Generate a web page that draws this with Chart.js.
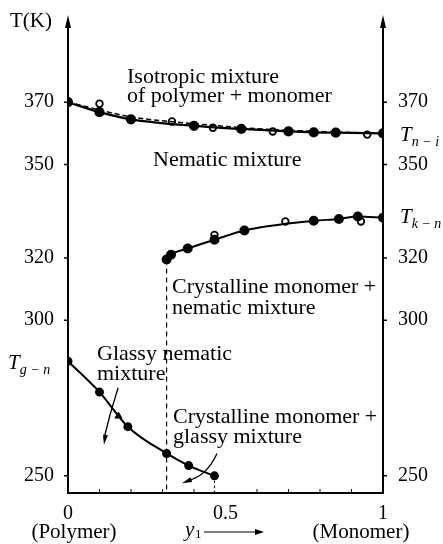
<!DOCTYPE html>
<html>
<head>
<meta charset="utf-8">
<script src="https://cdn.jsdelivr.net/npm/chart.js@4"></script>
<style>
  body { margin: 0; background: #fff; }
  #wrap { width: 443px; height: 544px; }
</style>
</head>
<body>
<div id="wrap"><canvas id="phase" width="443" height="544"></canvas></div>
<script>
// composition y1 (0 = polymer, 1 = monomer) and temperature T in K
const tempTicks = [250, 300, 320, 350, 370];
const compTicks = [0, 0.5, 1];
const compTickText = ['0', '0.5', '1'];
const compMinor = [0.1, 0.2, 0.3, 0.4, 0.6, 0.7, 0.8, 0.9];
const tMin = 244.5;
const tMax = 398;

// isotropic / nematic boundary: heating (filled), cooling (open)
const isoHeatX = [0, 0.1, 0.2, 0.4, 0.55, 0.7, 0.78, 0.85, 1];
const isoHeatT = [370, 366.8, 364.5, 362.4, 361.4, 360.6, 360.3, 360.2, 360.0];
const isoCoolX = [0.1, 0.33, 0.46, 0.65, 0.95];
const isoCoolT = [369.5, 363.8, 361.8, 360.6, 359.6];
// dashed cooling curve
const isoDashX = [0, 0.2, 0.4, 0.6, 0.8, 1];
const isoDashT = [370, 365.3, 363.1, 361.5, 360.6, 360.0];

// crystalline monomer / nematic boundary
const crysHeatX = [0.313, 0.327, 0.38, 0.465, 0.56, 0.78, 0.86, 0.92, 1];
const crysHeatT = [319.5, 321, 323, 325.8, 328.8, 331.9, 332.5, 333.3, 332.9];
const crysCoolX = [0.465, 0.69, 0.93];
const crysCoolT = [327.4, 331.7, 331.7];

// glass transition of the nematic mixture
const glassX = [0, 0.1, 0.19, 0.313, 0.383, 0.465];
const glassT = [286.8, 276.9, 265.8, 257.2, 253.3, 250];
const glassTriX = [0.16];
const glassTriT = [269.2];

const FONT = '"Liberation Serif", "Times New Roman", serif';

function pts(xs, ts) {
  return xs.map((x, i) => ({ x: x, y: ts[i] }));
}

function drawArrowHead(ctx, x, y, ang, len, half) {
  ctx.beginPath();
  ctx.moveTo(x, y);
  ctx.lineTo(x - len * Math.cos(ang) + half * Math.sin(ang), y - len * Math.sin(ang) - half * Math.cos(ang));
  ctx.lineTo(x - len * Math.cos(ang) - half * Math.sin(ang), y - len * Math.sin(ang) + half * Math.cos(ang));
  ctx.closePath();
  ctx.fill();
}

function drawSubLabel(ctx, main, sub, x, y) {
  ctx.textAlign = 'left';
  ctx.textBaseline = 'middle';
  ctx.font = 'italic 21px ' + FONT;
  ctx.fillText(main, x, y);
  const w = ctx.measureText(main).width;
  ctx.font = 'italic 14px ' + FONT;
  ctx.fillText(sub, x + w, y + 7);
}

const framePlugin = {
  id: 'frame',
  afterDatasetsDraw(chart) {
    const ctx = chart.ctx;
    const xs = chart.scales.x;
    const ys = chart.scales.y;
    const { left, right, top, bottom } = chart.chartArea;
    ctx.save();
    ctx.strokeStyle = '#000';
    ctx.fillStyle = '#000';

    // axes with arrows on the two temperature axes
    ctx.lineWidth = 2;
    ctx.beginPath();
    ctx.moveTo(left, top + 6);
    ctx.lineTo(left, bottom);
    ctx.lineTo(right, bottom);
    ctx.lineTo(right, top + 6);
    ctx.stroke();
    drawArrowHead(ctx, left, top, -Math.PI / 2, 13, 3);
    drawArrowHead(ctx, right, top, -Math.PI / 2, 13, 3);

    // temperature ticks, both sides
    ctx.lineWidth = 1.5;
    ctx.font = '20px ' + FONT;
    ctx.textBaseline = 'middle';
    tempTicks.forEach(t => {
      const y = ys.getPixelForValue(t);
      ctx.beginPath();
      ctx.moveTo(left - 4, y);
      ctx.lineTo(left, y);
      ctx.moveTo(right, y);
      ctx.lineTo(right + 4, y);
      ctx.stroke();
      ctx.textAlign = 'right';
      ctx.fillText(String(t), left - 14, y);
      ctx.textAlign = 'left';
      ctx.fillText(String(t), right + 15, y);
    });

    // composition ticks
    ctx.lineWidth = 1;
    compMinor.forEach(c => {
      const x = xs.getPixelForValue(c);
      ctx.beginPath();
      ctx.moveTo(x, bottom);
      ctx.lineTo(x, bottom - 4);
      ctx.stroke();
    });
    ctx.font = '20px ' + FONT;
    ctx.textAlign = 'center';
    compTicks.forEach((c, i) => {
      ctx.fillText(compTickText[i], xs.getPixelForValue(c), bottom + 21);
    });
    ctx.font = '21px ' + FONT;
    ctx.fillText('(Polymer)', 74, bottom + 39);
    ctx.fillText('(Monomer)', 361, bottom + 39);

    // y1 with arrow
    ctx.textAlign = 'left';
    ctx.font = 'italic 21px ' + FONT;
    ctx.fillText('y', 185, bottom + 37);
    ctx.font = '13px ' + FONT;
    ctx.fillText('1', 195, bottom + 42);
    ctx.lineWidth = 1.2;
    ctx.beginPath();
    ctx.moveTo(204, bottom + 39);
    ctx.lineTo(258, bottom + 39);
    ctx.stroke();
    drawArrowHead(ctx, 264, bottom + 39, 0, 9, 3);

    // axis title and transition labels
    ctx.font = '21px ' + FONT;
    ctx.textAlign = 'left';
    ctx.fillText('T(K)', 10, 21);
    drawSubLabel(ctx, 'T', 'g − n', 8, ys.getPixelForValue(glassT[0]) + 2);
    drawSubLabel(ctx, 'T', 'n − i', right + 17, ys.getPixelForValue(359.4));
    drawSubLabel(ctx, 'T', 'k − n', right + 17, ys.getPixelForValue(crysHeatT[crysHeatT.length - 1]));

    // region names
    ctx.font = '22px ' + FONT;
    ctx.textAlign = 'left';
    ctx.fillText('Isotropic mixture', 127, 77);
    ctx.fillText('of polymer + monomer', 127, 96);
    ctx.fillText('Nematic mixture', 153, 160);
    ctx.fillText('Crystalline monomer +', 172, 287);
    ctx.fillText('nematic mixture', 172, 308);
    ctx.fillText('Glassy nematic', 97, 354);
    ctx.fillText('mixture', 97, 374);
    ctx.fillText('Crystalline monomer +', 173, 417);
    ctx.fillText('glassy mixture', 173, 437);

    // pointer arrows from the glassy labels
    ctx.lineWidth = 1.3;
    const a0 = [xs.getPixelForValue(0.159), ys.getPixelForValue(278.3)];
    const a1 = [xs.getPixelForValue(0.114), ys.getPixelForValue(260)];
    ctx.beginPath();
    ctx.moveTo(a0[0], a0[1]);
    ctx.quadraticCurveTo(a0[0] - 8, a0[1] + 25, a1[0], a1[1] - 6);
    ctx.stroke();
    drawArrowHead(ctx, a1[0], a1[1], Math.atan2(12, -2), 10, 2.5);

    const b0 = [xs.getPixelForValue(0.473), ys.getPixelForValue(257.2)];
    const b1 = [xs.getPixelForValue(0.362), ys.getPixelForValue(247.6)];
    ctx.beginPath();
    ctx.moveTo(b0[0], b0[1]);
    ctx.quadraticCurveTo(b0[0] - 10, b0[1] + 22, b1[0] + 7, b1[1] - 3);
    ctx.stroke();
    drawArrowHead(ctx, b1[0], b1[1], Math.atan2(4, -10), 10, 2.5);

    ctx.restore();
  }
};

const black = '#000';

new Chart(document.getElementById('phase'), {
  type: 'scatter',
  data: {
    datasets: [
      {
        data: pts(isoDashX, isoDashT),
        showLine: true,
        cubicInterpolationMode: 'monotone',
        borderColor: black,
        borderWidth: 1.5,
        borderDash: [5, 3],
        pointRadius: 0
      },
      {
        data: pts(isoHeatX, isoHeatT),
        showLine: true,
        cubicInterpolationMode: 'monotone',
        borderColor: black,
        borderWidth: 2.2,
        pointRadius: 4,
        pointBackgroundColor: black,
        pointBorderColor: black
      },
      {
        data: pts(isoCoolX, isoCoolT),
        showLine: false,
        pointRadius: 3.3,
        pointBackgroundColor: '#fff',
        pointBorderColor: black,
        pointBorderWidth: 1.8
      },
      {
        data: pts(crysHeatX, crysHeatT),
        showLine: true,
        cubicInterpolationMode: 'monotone',
        borderColor: black,
        borderWidth: 2,
        pointRadius: 4,
        pointBackgroundColor: black,
        pointBorderColor: black
      },
      {
        data: pts(crysCoolX, crysCoolT),
        showLine: false,
        pointRadius: 3.3,
        pointBackgroundColor: '#fff',
        pointBorderColor: black,
        pointBorderWidth: 1.8
      },
      {
        data: pts(glassX, glassT),
        showLine: true,
        cubicInterpolationMode: 'monotone',
        borderColor: black,
        borderWidth: 2,
        pointRadius: 3.5,
        pointBackgroundColor: black,
        pointBorderColor: black
      },
      {
        data: pts(glassTriX, glassTriT),
        showLine: false,
        pointStyle: 'triangle',
        pointRadius: 4,
        pointBackgroundColor: black,
        pointBorderColor: black
      },
      {
        // onset of monomer crystallisation
        data: [{ x: crysHeatX[0], y: crysHeatT[0] }, { x: crysHeatX[0], y: tMin }],
        showLine: true,
        borderColor: black,
        borderWidth: 1.2,
        borderDash: [5, 4],
        pointRadius: 0
      },
      {
        data: [{ x: glassX[glassX.length - 1], y: glassT[glassT.length - 1] }, { x: glassX[glassX.length - 1], y: tMin }],
        showLine: true,
        borderColor: black,
        borderWidth: 1.2,
        borderDash: [2, 3],
        pointRadius: 0
      }
    ]
  },
  options: {
    responsive: false,
    animation: false,
    layout: { padding: { left: 68, right: 60, top: 15, bottom: 51 } },
    scales: {
      x: { type: 'linear', min: 0, max: 1, display: false },
      y: { type: 'linear', min: tMin, max: tMax, display: false }
    },
    plugins: { legend: { display: false }, tooltip: { enabled: false } }
  },
  plugins: [framePlugin]
});
</script>
</body>
</html>
